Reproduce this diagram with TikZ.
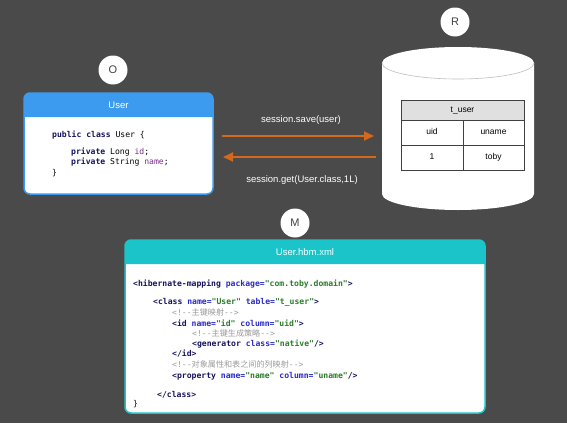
\documentclass[tikz,border=0pt]{standalone}
\usepackage{fontspec}
\setmainfont{Liberation Sans}
\setmonofont{DejaVu Sans Mono}
\newfontfamily\cjk{Noto Sans CJK SC}
\usetikzlibrary{arrows.meta}
\definecolor{bgc}{HTML}{4A4A4A}
\definecolor{userblue}{HTML}{3C9BEF}
\definecolor{teal}{HTML}{1BC4C9}
\definecolor{orng}{HTML}{D4681C}
\definecolor{tagc}{HTML}{14145E}
\definecolor{attc}{HTML}{2A2AC8}
\definecolor{valc}{HTML}{2A7D2A}
\definecolor{cmtc}{HTML}{9A9A9A}
\definecolor{purp}{HTML}{7A2A8A}
\definecolor{hdrgray}{HTML}{E0E0E0}
\newcommand\tg[1]{\textcolor{tagc}{\textbf{#1}}}
\newcommand\at[1]{\textcolor{attc}{\textbf{#1}}}
\newcommand\vl[1]{\textcolor{valc}{\textbf{#1}}}
\newcommand\cm[1]{\textcolor{cmtc}{<!-{}-{\cjk #1}-{}->}}
\tikzset{
  badge/.style={circle, fill=white, minimum size=29pt, inner sep=0pt, text=black!75, font=\fontsize{11}{13}\selectfont},
  code/.style={anchor=base west, inner sep=0pt, font=\ttfamily\fontsize{8.1}{10}\selectfont},
  hdr/.style={text=white, font=\fontsize{9.5}{11}\selectfont},
  lbl/.style={text=white, font=\fontsize{9.5}{11}\selectfont},
  cell/.style={font=\fontsize{8.5}{10}\selectfont, text=black, text height=6pt, text depth=1.5pt, inner sep=0pt},
  flow/.style={draw=orng, line width=1.8pt, -{Triangle[length=10pt,width=9pt]}},
}
\begin{document}
\begin{tikzpicture}[x=1pt,y=1pt]
\useasboundingbox (0,0) rectangle (567,-423);
\fill[bgc] (0,0) rectangle (567,-423);

% badges
\node[badge] (O) at (113,-70) {O};
\node[badge] (R) at (455,-22) {R};
\node[badge] (M) at (295,-223) {M};

% User box
\draw[fill=white, draw=userblue, line width=1.5pt, rounded corners=6pt] (24,-93) rectangle (213,-194);
\fill[userblue] (24,-117) [rounded corners=6pt]-- (24,-93) -- (213,-93) [sharp corners]-- (213,-117) -- cycle;
\node[hdr] (userh) at (118.5,-105) {User};
\node[code] (u1) at (52,-137) {\tg{public class} User \{};
\node[code] (u2) at (71,-154) {\tg{private} Long \textcolor{purp}{id};};
\node[code] (u3) at (71,-164) {\tg{private} String \textcolor{purp}{name};};
\node[code] (u4) at (52,-175) {\}};

% cylinder
\fill[white] (382,-63) -- (382,-194) arc[start angle=180,end angle=360,x radius=76,y radius=16] -- (534,-63) arc[start angle=0,end angle=180,x radius=76,y radius=16] -- cycle;
\draw[black!25, line width=0.6pt] (382,-63) arc[start angle=180,end angle=360,x radius=76,y radius=16];

% table
\fill[hdrgray] (401,-100) rectangle (524,-120);
\draw[black!75, line width=0.7pt] (401,-100) rectangle (524,-170);
\draw[black!75, line width=0.7pt] (401,-120) -- (524,-120);
\draw[black!75, line width=0.7pt] (401,-145) -- (524,-145);
\draw[black!75, line width=0.7pt] (463,-120) -- (463,-170);
\node[cell] (th) at (462.5,-110) {t\_user};
\node[cell] (c11) at (432,-132.5) {uid};
\node[cell] (c12) at (493.5,-132.5) {uname};
\node[cell] (c21) at (432,-157.5) {1};
\node[cell] (c22) at (493.5,-157.5) {toby};

% arrows
\coordinate (s1) at (222,-136);
\coordinate (e1) at (374,-136);
\coordinate (s2) at (376,-157);
\coordinate (e2) at (223,-157);
\draw[flow] (s1) -- (e1);
\draw[flow] (s2) -- (e2);
\node[lbl] (savel) at (301,-120) {session.save(user)};
\node[lbl] (getl) at (302,-180) {session.get(User.class,1L)};

% mapping box
\draw[fill=white, draw=teal, line width=1.5pt, rounded corners=6pt] (125,-240) rectangle (485,-413);
\fill[teal] (125,-264) [rounded corners=6pt]-- (125,-240) -- (485,-240) [sharp corners]-- (485,-264) -- cycle;
\node[hdr] (maph) at (305,-252) {User.hbm.xml};
\node[code] (m1) at (133,-286) {\tg{<hibernate-mapping} \at{package=}\vl{"com.toby.domain"}\tg{>}};
\node[code] (m2) at (153,-304) {\tg{<class} \at{name=}\vl{"User"} \at{table=}\vl{"t\_user"}\tg{>}};
\node[code] (m3) at (172,-315) {\cm{主键映射}};
\node[code] (m4) at (172,-326) {\tg{<id} \at{name=}\vl{"id"} \at{column=}\vl{"uid"}\tg{>}};
\node[code] (m5) at (192,-336) {\cm{主键生成策略}};
\node[code] (m6) at (192,-346.5) {\tg{<generator} \at{class=}\vl{"native"}\tg{/>}};
\node[code] (m7) at (172,-356.5) {\tg{</id>}};
\node[code] (m8) at (172,-367) {\cm{对象属性和表之间的列映射}};
\node[code] (m9) at (172,-378) {\tg{<property} \at{name=}\vl{"name"} \at{column=}\vl{"uname"}\tg{/>}};
\node[code] (m10) at (157,-397) {\tg{</class>}};
\node[code] (m11) at (133,-406) {\}};
\end{tikzpicture}
\end{document}
